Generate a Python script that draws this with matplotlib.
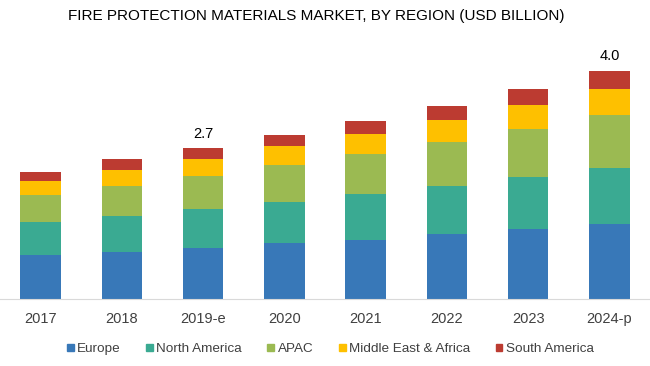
import matplotlib
matplotlib.use("Agg")
import matplotlib.pyplot as plt
from matplotlib.patches import Patch
import numpy as np

years = ["2017", "2018", "2019-e", "2020", "2021", "2022", "2023", "2024-p"]
regions = ["Europe", "North America", "APAC", "Middle East & Africa", "South America"]

europe = [0.79, 0.84, 0.91, 1.00, 1.05, 1.16, 1.25, 1.34]
north_america = [0.58, 0.64, 0.69, 0.73, 0.81, 0.85, 0.92, 0.99]
apac = [0.48, 0.53, 0.58, 0.65, 0.71, 0.77, 0.84, 0.93]
mea = [0.25, 0.28, 0.30, 0.33, 0.35, 0.39, 0.43, 0.47]
south_america = [0.16, 0.19, 0.19, 0.20, 0.23, 0.25, 0.28, 0.31]

labels = {2: "2.7", 7: "4.0"}

colors = ["#3878b8", "#3aaa92", "#9bba52", "#fec000", "#bc3b31"]

plt.rcParams['font.family'] = ['Liberation Sans', 'DejaVu Sans']

fig = plt.figure(figsize=(6.5, 3.66), dpi=100)
ax = fig.add_axes([0.0, 0.182, 1.0, 0.709])

series = [europe, north_america, apac, mea, south_america]
x = np.arange(len(years))
bottom = np.zeros(len(years))
for name, vals, c in zip(regions, series, colors):
    vals = np.array(vals)
    ax.bar(x, vals, 0.5, bottom=bottom, color=c, label=name, linewidth=0)
    bottom += vals

# totals on top of the estimated / projected bars
for i, txt in labels.items():
    ax.text(x[i], bottom[i] + 0.14, txt, ha="center", va="bottom", fontsize=10.5, color="#000000")

ax.set_xlim(-0.5, len(years) - 0.5)
ax.set_ylim(0, 4.59)
ax.set_xticks(x)
ax.set_xticklabels(years, fontsize=10.5, color="#404040")
ax.tick_params(axis="x", length=0, pad=9)
ax.set_yticks([])
for s in ["top", "right", "left"]:
    ax.spines[s].set_visible(False)
ax.spines["bottom"].set_color("#d9d9d9")

fig.text(0.486, 0.955, "FIRE PROTECTION MATERIALS MARKET, BY REGION (USD BILLION)",
         ha="center", va="center", fontsize=11, color="#000000")

fig.legend([Patch(color=c) for c in colors], regions, loc="center",
           bbox_to_anchor=(0.508, 0.046), ncol=5, frameon=False, fontsize=9.7,
           handlelength=0.5, handleheight=0.5, handletextpad=0.25, columnspacing=1.9,
           labelcolor="#404040")

fig.savefig("out.png", dpi=100)
